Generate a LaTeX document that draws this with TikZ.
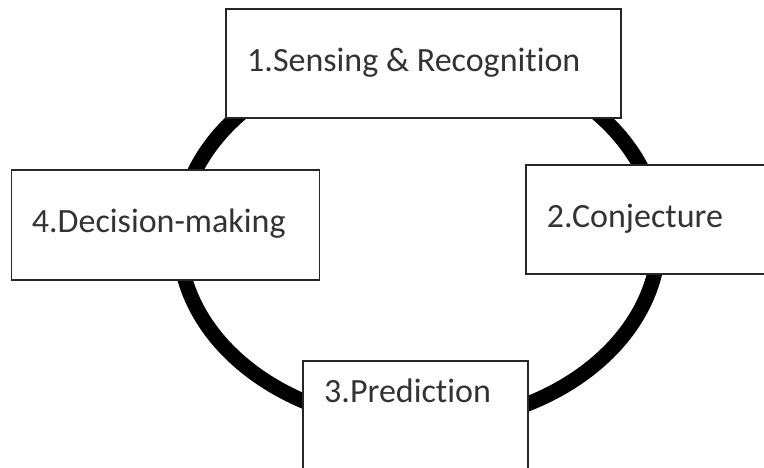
\documentclass[tikz,border=0pt]{standalone}
\usepackage{fontspec}
\setmainfont[Ligatures={NoCommon}]{Carlito}
\begin{document}
\begin{tikzpicture}[x=1pt,y=-1pt,
  ring/.style={line width=15pt,draw=black},
  box/.style={draw=black!85,line width=1.1pt,fill=white,rectangle,inner sep=0pt},
  lbl/.style={inner sep=0pt,anchor=base west,font=\fontsize{34}{40}\selectfont,text=black!80}]
\useasboundingbox (0,0) rectangle (764,468);
\clip (0,0) rectangle (764,468);
\fill[white] (0,0) rectangle (764,468);
\coordinate (c) at (419,238);
\draw[ring] (c) ellipse [x radius=240, y radius=186];
\node[box,minimum width=395pt,minimum height=109pt] (b1) at (423.5,63.5) {};
\node[box,minimum width=264pt,minimum height=109pt] (b2) at (658,219.5) {};
\node[box,minimum width=225pt,minimum height=109pt] (b3) at (415.5,415.5) {};
\node[box,minimum width=308pt,minimum height=110pt] (b4) at (165.8,225) {};
\node[lbl] (t1) at (247,72) {1.Sensing \& Recognition};
\node[lbl] (t2) at (546.7,228) {2.Conjecture};
\node[lbl] (t3) at (324,402) {3.Prediction};
\node[lbl] (t4) at (31.7,232.7) {4.Decision-making};
\end{tikzpicture}
\end{document}
